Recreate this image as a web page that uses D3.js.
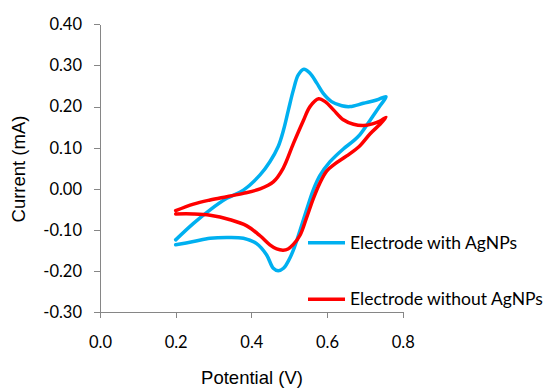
<!DOCTYPE html>
<html>
<head>
<meta charset="utf-8">
<script src="https://cdnjs.cloudflare.com/ajax/libs/d3/7.8.5/d3.min.js"></script>
<style>
  body { margin: 0; background: #fff; }
</style>
</head>
<body>
<div id="viz"></div>
<script>
// cyclic voltammograms (sweep order: 0.2 V -> 0.755 V -> 0.2 V)
var potWith = [0.200, 0.247, 0.291, 0.335, 0.379, 0.423, 0.449, 0.471, 0.485, 0.498, 0.511, 0.524, 0.539, 0.555, 0.573, 0.590, 0.612, 0.639, 0.661, 0.696, 0.731, 0.756,
               0.740, 0.714, 0.687, 0.669, 0.643, 0.608, 0.581, 0.564, 0.546, 0.529, 0.511, 0.498, 0.485, 0.471, 0.458, 0.440, 0.414, 0.379, 0.335, 0.291, 0.247, 0.200];
var curWith = [-0.124, -0.084, -0.051, -0.023, -0.003, 0.034, 0.066, 0.103, 0.143, 0.192, 0.240, 0.277, 0.291, 0.281, 0.257, 0.232, 0.212, 0.202, 0.200, 0.208, 0.216, 0.224,
               0.202, 0.167, 0.132, 0.116, 0.097, 0.066, 0.032, -0.002, -0.051, -0.100, -0.149, -0.175, -0.193, -0.199, -0.193, -0.160, -0.133, -0.120, -0.118, -0.120, -0.128, -0.136];

var potWithout = [0.200, 0.247, 0.291, 0.335, 0.379, 0.423, 0.458, 0.484, 0.511, 0.537, 0.555, 0.578, 0.595, 0.617, 0.643, 0.670, 0.696, 0.720, 0.740, 0.756,
                  0.740, 0.714, 0.687, 0.652, 0.620, 0.599, 0.581, 0.564, 0.546, 0.529, 0.511, 0.497, 0.484, 0.467, 0.449, 0.423, 0.388, 0.344, 0.291, 0.247, 0.200];
var curWithout = [-0.053, -0.037, -0.027, -0.019, -0.011, 0.000, 0.017, 0.050, 0.110, 0.165, 0.200, 0.219, 0.212, 0.192, 0.168, 0.157, 0.154, 0.158, 0.165, 0.174,
                  0.157, 0.134, 0.105, 0.080, 0.060, 0.043, 0.014, -0.023, -0.070, -0.112, -0.135, -0.146, -0.149, -0.146, -0.136, -0.114, -0.090, -0.075, -0.064, -0.061, -0.061];

var seriesNames = ["Electrode with AgNPs", "Electrode without AgNPs"];
var seriesColors = ["#00B0F0", "#FF0000"];
var xTicks = [0, 0.2, 0.4, 0.6, 0.8];
var yTicks = [-0.3, -0.2, -0.1, 0, 0.1, 0.2, 0.3, 0.4];

var width = 544, height = 388;
var tickFont = "Lato, 'Open Sans', sans-serif";
var titleFont = "'Liberation Sans', Arial, sans-serif";

var x = d3.scaleLinear().domain([0, 0.8]).range([100, 402.7]);
var y = d3.scaleLinear().domain([-0.3, 0.4]).range([312.3, 24.3]);

var svg = d3.select("#viz").append("svg")
  .attr("width", width)
  .attr("height", height)
  .style("display", "block");

// axes
var yAxis = svg.append("g")
  .attr("transform", "translate(" + x(0) + ",0)")
  .call(d3.axisLeft(y).tickValues(yTicks).tickFormat(d => d.toFixed(2)).tickSize(6).tickSizeOuter(0).tickPadding(12));

var xAxis = svg.append("g")
  .attr("transform", "translate(0," + y(-0.3) + ")")
  .call(d3.axisBottom(x).tickValues(xTicks).tickFormat(d => d.toFixed(1)).tickSize(6).tickSizeOuter(0).tickPadding(18));

[xAxis, yAxis].forEach(function(g) {
  g.selectAll("path, line").attr("stroke", "#868686").attr("shape-rendering", "crispEdges");
  g.selectAll("text")
    .attr("fill", "#000")
    .style("font-family", tickFont)
    .style("font-size", "16.5px");
});

// curves
var series = [
  { pot: potWith, cur: curWith },
  { pot: potWithout, cur: curWithout }
];

var line = d3.line()
  .x(d => x(d[0]))
  .y(d => y(d[1]))
  .curve(d3.curveCatmullRom.alpha(0.5));

series.forEach(function(s, k) {
  svg.append("path")
    .datum(d3.zip(s.pot, s.cur))
    .attr("fill", "none")
    .attr("stroke", seriesColors[k])
    .attr("stroke-width", 3.5)
    .attr("stroke-linejoin", "round")
    .attr("stroke-linecap", "round")
    .attr("d", line);
});

// legend
var legendY = [242.7, 299.3];
var legend = svg.append("g").selectAll("g")
  .data(seriesNames)
  .enter().append("g")
  .attr("transform", (d, i) => "translate(308," + legendY[i] + ")");

legend.append("line")
  .attr("x1", 0).attr("x2", 37)
  .attr("stroke", (d, i) => seriesColors[i])
  .attr("stroke-width", 3.5);

legend.append("text")
  .attr("x", 42)
  .attr("dy", "0.35em")
  .style("font-family", tickFont)
  .style("font-size", "17.5px")
  .attr("fill", "#000")
  .text(d => d);

// axis titles
svg.append("text")
  .attr("x", 252)
  .attr("y", 384)
  .attr("text-anchor", "middle")
  .style("font-family", titleFont)
  .style("font-size", "18.5px")
  .text("Potential (V)");

svg.append("text")
  .attr("transform", "translate(25,169) rotate(-90)")
  .attr("text-anchor", "middle")
  .style("font-family", titleFont)
  .style("font-size", "18.5px")
  .text("Current (mA)");
</script>
</body>
</html>
